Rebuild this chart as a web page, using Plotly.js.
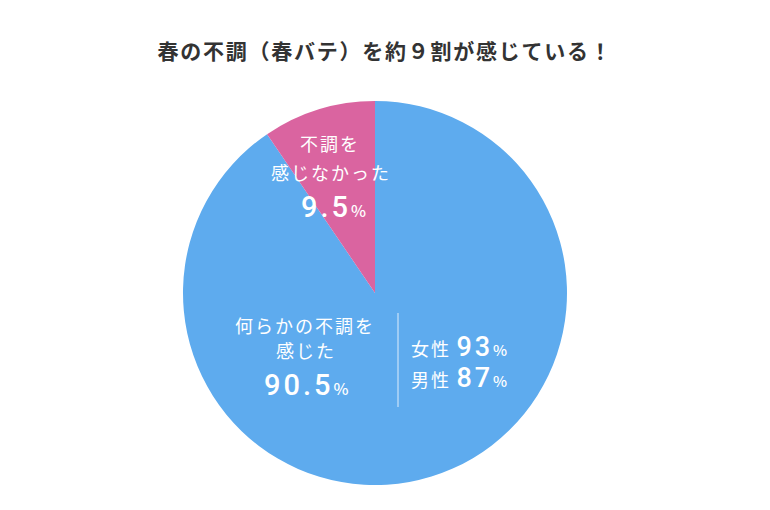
<!DOCTYPE html>
<html>
<head>
<meta charset="utf-8">
<script src="https://cdn.plot.ly/plotly-3.0.1.min.js"></script>
<style>
  body { margin: 0; background: #fff; }
  #chart { width: 770px; height: 510px; }
</style>
</head>
<body>
<div id="chart"></div>
<script>
// 春バテ survey
const sliceLabels = ['何らかの不調を感じた', '不調を感じなかった'];
const sliceValues = [90.5, 9.5];
const sliceColors = ['#5eabee', '#da64a0'];
const genderLabels = ['女性', '男性'];
const genderValues = [93, 87];

const jp = '"Noto Sans CJK JP", "Noto Sans", sans-serif';
const num = "Roboto, 'Noto Sans', sans-serif";

// pixel -> paper
const px = x => x / 770;
const py = y => 1 - y / 510;

function spaced(text, sp, size) {
    return '<span style="letter-spacing:' + sp + 'px' + (size ? ';font-size:' + size + 'px' : '') + '">' + text + '</span>';
}

function pct(v, size) {
    return '<span style="font-family:' + num + ';font-weight:500;letter-spacing:3px;font-size:' + size + 'px">' + v + '</span>' +
        '<span style="font-size:' + Math.round(size * 0.55) + 'px;font-weight:500">%</span>';
}

function note(text, x, y, size, opts) {
    return Object.assign({
        text: text, xref: 'paper', yref: 'paper', x: px(x), y: py(y),
        showarrow: false, xanchor: 'center', yanchor: 'middle',
        font: {family: jp, size: size, color: '#ffffff'}
    }, opts || {});
}

const genderText = genderLabels.map((g, i) => spaced(g, 2, 18) + ' ' + pct(genderValues[i], 27)).join('<br>');

const annotations = [
    note(spaced('不調を', 2), 330, 143, 18),
    note(spaced('感じなかった', 2), 331, 172, 18),
    note(pct(sliceValues[1], 29), 333, 207, 29),
    note(spaced('何らかの不調を', 2), 305, 325, 18),
    note(spaced('感じた', 2), 306, 350, 18),
    note(pct(sliceValues[0], 29), 306, 385, 29),
    note(genderText, 409, 361, 24, {xanchor: 'left', align: 'left'})
];

const layout = {
    width: 770, height: 510,
    margin: {t: 0, l: 0, r: 0, b: 0},
    paper_bgcolor: '#fff',
    showlegend: false,
    title: {
        text: '<b>' + spaced('春の不調（春バテ）を約９割が感じている！', 1.75) + '</b>',
        x: 0.5, xanchor: 'center', y: py(52), yanchor: 'middle',
        font: {family: jp, size: 21, color: '#333333'}
    },
    annotations: annotations,
    shapes: [{
        type: 'line', xref: 'paper', yref: 'paper',
        x0: px(398), x1: px(398), y0: py(313), y1: py(407),
        line: {color: 'rgba(255,255,255,0.8)', width: 1}
    }]
};

Plotly.newPlot('chart', [{
    type: 'pie',
    labels: sliceLabels,
    values: sliceValues,
    marker: {colors: sliceColors, line: {width: 0}},
    sort: false,
    direction: 'clockwise',
    rotation: 0,
    textinfo: 'none',
    hoverinfo: 'label+percent',
    domain: {x: [183 / 770, 567 / 770], y: [py(485), py(101)]}
}], layout, {staticPlot: false, displayModeBar: false});
</script>
</body>
</html>
